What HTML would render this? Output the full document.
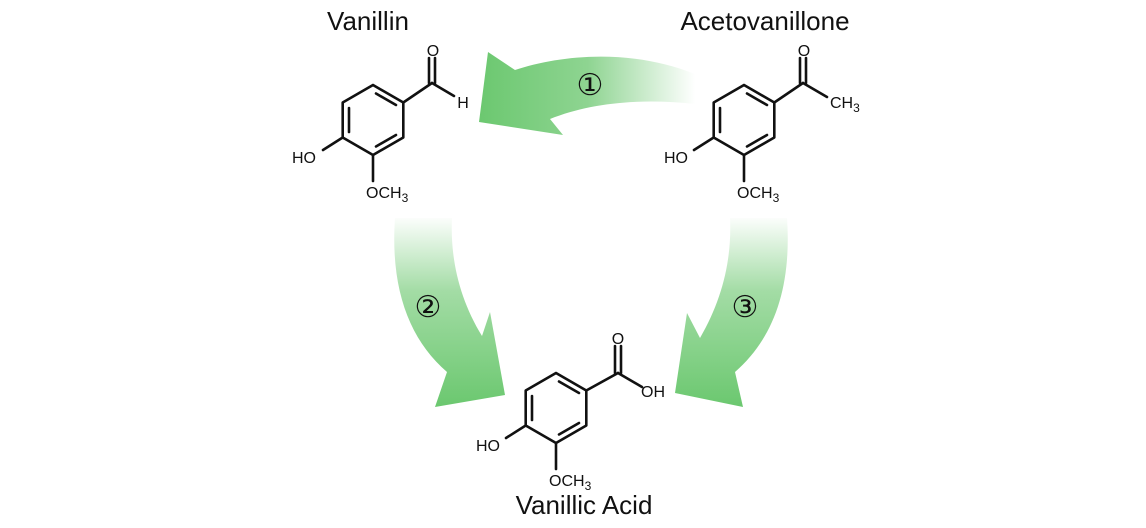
<!DOCTYPE html>
<html><head><meta charset="utf-8"><style>
html,body{margin:0;padding:0;background:#fff;}
svg{display:block;}
text{font-family:"Liberation Sans","DejaVu Sans",sans-serif;fill:#111;}
</style></head><body>
<svg width="1146" height="528" viewBox="0 0 1146 528" xmlns="http://www.w3.org/2000/svg">
<defs>
<linearGradient id="g1" x1="480" y1="0" x2="695" y2="0" gradientUnits="userSpaceOnUse">
<stop offset="0" stop-color="#6cc870"/><stop offset="0.5" stop-color="#8ed491"/><stop offset="1" stop-color="#ffffff"/>
</linearGradient>
<linearGradient id="g2" x1="0" y1="215" x2="0" y2="405" gradientUnits="userSpaceOnUse">
<stop offset="0" stop-color="#ffffff"/><stop offset="0.4" stop-color="#a3dca5"/><stop offset="1" stop-color="#6cc870"/>
</linearGradient>
</defs>
<path d="M488,52 L479,122 L563,135 L550,119 C590,103 640,98 695,104 L695,74 C630,48 560,55 515,70 Z" fill="url(#g1)"/>
<path d="M395,218 C390,290 410,340 447,372 L435,407 L505,395 L490,312 L482,336 C460,300 450,260 452,218 Z" fill="url(#g2)"/>
<path d="M787,218 C792,290 772,340 735,372 L743,407 L675,393 L687,313 L700,338 C722,300 732,260 730,218 Z" fill="url(#g2)"/>

<text x="590" y="95" font-size="30" text-anchor="middle" font-family="DejaVu Sans">①</text>
<text x="428" y="317" font-size="30" text-anchor="middle" font-family="DejaVu Sans">②</text>
<text x="745" y="317" font-size="30" text-anchor="middle" font-family="DejaVu Sans">③</text>

<text x="368" y="30" font-size="26" text-anchor="middle">Vanillin</text>
<text x="765" y="30" font-size="26" text-anchor="middle">Acetovanillone</text>
<text x="584" y="514" font-size="26" text-anchor="middle">Vanillic Acid</text>

<g stroke="#111" stroke-width="2.6" fill="none" stroke-linecap="round">
<g transform="translate(373,120)">
<polygon points="0,-35 30.3,-17.5 30.3,17.5 0,35 -30.3,17.5 -30.3,-17.5" stroke-linejoin="round"/>
<line x1="3" y1="-26.5" x2="23" y2="-15"/><line x1="-24" y1="-12" x2="-24" y2="12"/><line x1="23" y1="15" x2="3" y2="26.5"/>
<line x1="30.3" y1="-17.5" x2="59" y2="-37"/><line x1="59" y1="-37" x2="81" y2="-24"/>
<line x1="56" y1="-37" x2="56" y2="-62"/><line x1="62" y1="-37" x2="62" y2="-62"/>
<line x1="-30.3" y1="17.5" x2="-50" y2="30"/><line x1="0" y1="35" x2="0" y2="61"/>
</g>
<g transform="translate(744,120)">
<polygon points="0,-35 30.3,-17.5 30.3,17.5 0,35 -30.3,17.5 -30.3,-17.5" stroke-linejoin="round"/>
<line x1="3" y1="-26.5" x2="23" y2="-15"/><line x1="-24" y1="-12" x2="-24" y2="12"/><line x1="23" y1="15" x2="3" y2="26.5"/>
<line x1="30.3" y1="-17.5" x2="59" y2="-37"/><line x1="59" y1="-37" x2="83" y2="-23"/>
<line x1="56" y1="-37" x2="56" y2="-62"/><line x1="62" y1="-37" x2="62" y2="-62"/>
<line x1="-30.3" y1="17.5" x2="-50" y2="30"/><line x1="0" y1="35" x2="0" y2="61"/>
</g>
<g transform="translate(556,408)">
<polygon points="0,-35 30.3,-17.5 30.3,17.5 0,35 -30.3,17.5 -30.3,-17.5" stroke-linejoin="round"/>
<line x1="3" y1="-26.5" x2="23" y2="-15"/><line x1="-24" y1="-12" x2="-24" y2="12"/><line x1="23" y1="15" x2="3" y2="26.5"/>
<line x1="30.3" y1="-17.5" x2="62" y2="-35"/><line x1="62" y1="-35" x2="86" y2="-21"/>
<line x1="59" y1="-35" x2="59" y2="-62"/><line x1="65" y1="-35" x2="65" y2="-62"/>
<line x1="-30.3" y1="17.5" x2="-50" y2="30"/><line x1="0" y1="35" x2="0" y2="61"/>
</g>
</g>
<g font-size="16">
<text x="433" y="56" text-anchor="middle">O</text>
<text x="463" y="108" text-anchor="middle">H</text>
<text x="304" y="163" text-anchor="middle">HO</text>
<text x="366" y="198">OCH<tspan font-size="12" dy="4">3</tspan></text>

<text x="804" y="56" text-anchor="middle">O</text>
<text x="830" y="108">CH<tspan font-size="12" dy="4">3</tspan></text>
<text x="676" y="163" text-anchor="middle">HO</text>
<text x="737" y="198">OCH<tspan font-size="12" dy="4">3</tspan></text>

<text x="618" y="344" text-anchor="middle">O</text>
<text x="641" y="397">OH</text>
<text x="488" y="451" text-anchor="middle">HO</text>
<text x="549" y="486">OCH<tspan font-size="12" dy="4">3</tspan></text>
</g>
</svg>
</body></html>
